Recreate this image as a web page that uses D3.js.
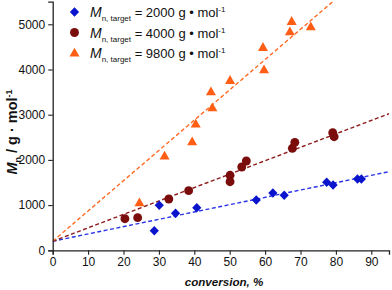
<!DOCTYPE html>
<html>
<head>
<meta charset="utf-8">
<script src="https://cdn.jsdelivr.net/npm/d3@7"></script>
<style>
  body { margin: 0; background: #fff; }
  svg { font-family: "Liberation Sans", Arial, sans-serif; }
</style>
</head>
<body>
<svg width="392" height="290"></svg>
<script>
// data: [conversion %, Mn]
var blueData = [[28.7, 434], [30.1, 996], [34.7, 818], [40.7, 943], [57.5, 1113], [62.2, 1268],
    [65.4, 1217], [77.4, 1504], [79.2, 1445], [86.1, 1577], [87.2, 1577]];
var redData = [[20.4, 699], [24.0, 722], [32.8, 1135], [38.4, 1319], [50.1, 1659], [50.1, 1518],
    [53.4, 1843], [54.7, 1976], [67.7, 2257], [68.4, 2389], [79.1, 2602], [79.5, 2513]];
var orangeData = [[24.5, 1053], [31.6, 2086], [39.4, 2403], [40.4, 2794], [45.1, 3155], [44.7, 3509],
    [50.1, 3761], [59.4, 4491], [59.7, 3996], [67.0, 4836], [67.5, 5066], [72.9, 4947]];

// fitted lines: intercept, slope
var fits = [[200, 16.2], [200, 29.7], [200, 67.0]];
var targets = ["2000", "4000", "9800"];
var colors = ["#0a14cc", "#7a0c0c", "#ff5e14"];
var lineColors = ["#2b35e6", "#8e1b1b", "#ff6a24"];

var xTicks = d3.range(0, 91, 10);
var yTicks = d3.range(0, 5001, 1000);

var svg = d3.select("svg");
var x = d3.scaleLinear().domain([0, 95]).range([52.7, 389]);
var y = d3.scaleLinear().domain([0, 5500]).range([250.3, 1.7]);

svg.append("clipPath").attr("id", "clip")
    .append("rect").attr("x", x(0)).attr("y", y(5500))
    .attr("width", x(95) - x(0)).attr("height", y(0) - y(5500));

// dashed fit lines
var lines = svg.append("g").attr("clip-path", "url(#clip)");
fits.forEach(function (f, i) {
    lines.append("line")
        .attr("x1", x(0)).attr("y1", y(f[0]))
        .attr("x2", x(95)).attr("y2", y(f[0] + f[1] * 95))
        .attr("stroke", lineColors[i])
        .attr("stroke-width", 1.4)
        .attr("stroke-dasharray", "4,2.5");
});

// axes
var xAxis = svg.append("g").attr("transform", "translate(0," + y(0) + ")")
    .call(d3.axisBottom(x).tickValues(d3.range(5, 96, 10)).tickSize(3).tickFormat(""));
xAxis.call(d3.axisBottom(x).tickValues(xTicks).tickSize(4.5).tickPadding(3).tickFormat(d3.format("d")));
var yAxis = svg.append("g").attr("transform", "translate(" + x(0) + ",0)")
    .call(d3.axisLeft(y).tickValues(d3.range(500, 5501, 1000)).tickSize(3).tickFormat(""));
yAxis.call(d3.axisLeft(y).tickValues(yTicks).tickSize(4.5).tickPadding(3).tickFormat(d3.format("d")));

svg.selectAll(".domain").attr("stroke", "#222").attr("stroke-width", 1.3);
svg.selectAll(".tick line").attr("stroke", "#222").attr("stroke-width", 1.1);
svg.selectAll(".tick text").attr("font-size", 12).attr("fill", "#111")
    .attr("font-family", "Liberation Sans, Arial, sans-serif");

// markers
var shapes = [
    "M0,-4.8L4.6,0L0,4.8L-4.6,0Z",
    d3.symbol().type(d3.symbolCircle).size(62)(),
    "M0,-5.2L5,3.6L-5,3.6Z"
];
[blueData, redData, orangeData].forEach(function (set, i) {
    svg.append("g").selectAll("path")
        .data(set)
        .join("path")
        .attr("transform", function (d) { return "translate(" + x(d[0]) + "," + y(d[1]) + ")"; })
        .attr("d", shapes[i])
        .attr("fill", colors[i]);
});

// legend
var legend = svg.append("g");
targets.forEach(function (t, i) {
    var ly = 12 + i * 20.5;
    legend.append("path")
        .attr("transform", "translate(74.5," + ly + ")")
        .attr("d", shapes[i])
        .attr("fill", colors[i]);
    var tx = legend.append("text").attr("x", 90).attr("y", ly + 5).attr("font-size", 13).attr("fill", "#111");
    tx.append("tspan").attr("font-style", "italic").attr("font-size", 14).text("M");
    tx.append("tspan").attr("font-size", 8).attr("dy", 4).text("n, target");
    tx.append("tspan").attr("dy", -4).text(" = " + t + " g \u2022 mol");
    tx.append("tspan").attr("font-size", 8).attr("dy", -5).text("-1");
});

// y-axis label
var yl = svg.append("text")
    .attr("transform", "translate(17,132) rotate(-90)")
    .attr("text-anchor", "middle")
    .attr("font-size", 14.5).attr("font-weight", "bold").attr("fill", "#111");
yl.append("tspan").attr("font-style", "italic").text("M");
yl.append("tspan").attr("font-size", 9).attr("dy", 4).text("n");
yl.append("tspan").attr("dy", -4).text(" / g \u00b7 mol");
yl.append("tspan").attr("font-size", 9).attr("dy", -5).text("-1");

// x-axis label
svg.append("text")
    .attr("x", 224).attr("y", 286)
    .attr("text-anchor", "middle")
    .attr("font-size", 11.6).attr("font-weight", "bold").attr("font-style", "italic")
    .attr("fill", "#111")
    .text("conversion, %");
</script>
</body>
</html>
